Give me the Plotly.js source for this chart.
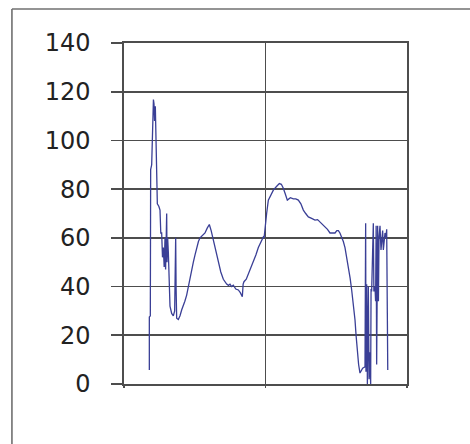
<!DOCTYPE html>
<html>
<head>
<meta charset="utf-8">
<script src="https://cdn.plot.ly/plotly-3.0.1.min.js"></script>
<style>
html,body{margin:0;padding:0;background:#fff;}
#chart{width:470px;height:444px;}
</style>
</head>
<body>
<div id="chart"></div>
<script>
var xPos = [
  8.95, 8.95, 9.3, 9.42, 9.78, 10.13, 10.4, 10.6, 10.8, 11.07, 11.3, 11.54, 11.78, 12.3, 12.72,
  13.0, 13.31, 13.6, 13.9, 14.2, 14.49, 14.7, 15.08, 15.2, 15.43, 15.67, 15.9, 16.25, 16.84, 17.43,
  17.9, 18.0, 18.26, 18.4, 18.61, 19.2, 19.79, 20.4, 20.97, 21.5, 22.14, 22.7, 23.32, 23.9, 24.5,
  25.1, 25.68, 26.3, 26.86, 27.7, 28.62, 29.4, 30.15, 30.8, 31.57, 32.4, 33.33, 34.2, 35.1, 35.7,
  36.28, 36.9, 37.46, 38.0, 38.63, 39.5, 40.4, 41.1, 41.81, 42.1, 42.4, 43.2, 43.93, 44.8, 45.7,
  46.6, 47.47, 48.3, 49.23, 49.5, 49.82, 50.4, 51.0, 51.9, 52.77, 53.8, 54.89, 55.6, 56.3, 57.0,
  57.71, 58.8, 59.84, 60.7, 61.6, 62.5, 63.37, 64.2, 65.14, 66.3, 67.49, 68.4, 69.26, 70.1, 71.02,
  71.9, 72.79, 73.7, 74.56, 75.2, 75.74, 76.3, 76.91, 77.5, 78.09, 78.7, 79.27, 79.9, 80.45, 81.0,
  81.63, 82.0, 82.45, 82.9, 83.39, 84.33, 85.16, 85.39, 85.5, 85.75, 86.0, 86.34, 86.6, 86.9, 87.16,
  87.3, 87.51, 88.1, 88.3, 88.69, 88.9, 89.1, 89.28, 89.63, 89.9, 90.11, 90.46, 90.81, 91.1, 91.4,
  91.64, 92.0, 92.23, 92.6, 92.82, 93.05, 93.2
];
var values = [
  5.7, 27.5, 28, 88, 90, 110, 116.8, 115, 108, 114, 100, 89, 74, 73, 71.4,
  62, 62, 52, 56, 48, 60, 47, 70, 50, 60, 54, 40, 32, 29, 28,
  30, 48, 60, 40, 27, 26.5, 28, 30.5, 32, 34, 36.5, 40, 44, 47, 50,
  53, 56, 58.5, 60, 61, 62, 64, 65.5, 63, 59, 54, 49.5, 46, 43, 42,
  41, 40.5, 41, 40, 40.6, 39, 38.6, 37.5, 35.8, 41, 42, 43, 45, 47.5, 50,
  53, 56, 58, 60.4, 60, 64, 70, 75.5, 77.5, 79.6, 81, 82.3, 82, 80.4, 78,
  75.5, 76.5, 76, 76, 75.5, 74, 71.4, 70, 68.6, 68, 67.3, 67.5, 66.5, 65.5, 64.5,
  63.5, 62, 62, 62, 63, 63, 62, 60.4, 58.5, 56, 52, 48, 43.5, 38.6, 33,
  26.3, 20, 12.7, 8, 4.5, 6.5, 7, 66, 5, 41, 0, 40, 2, 13, 0,
  39, 38, 66, 38, 40, 34, 65, 8, 65, 34, 60, 65, 55, 60, 63,
  55, 58, 62, 60, 63.5, 29, 5.7
];
var yTicks = [0, 20, 40, 60, 80, 100, 120, 140];

var frameColor = '#707070';
var gridColor = '#4d4d4d';

var trace = {
  x: xPos,
  y: values,
  type: 'scatter',
  mode: 'lines',
  line: {color: '#3a3f96', width: 1.3},
  hoverinfo: 'skip'
};

var layout = {
  width: 470,
  height: 444,
  margin: {l: 124, r: 63, t: 43, b: 60, pad: 0},
  paper_bgcolor: '#ffffff',
  plot_bgcolor: '#ffffff',
  showlegend: false,
  xaxis: {
    range: [0, 100],
    dtick: 50,
    tick0: 0,
    showgrid: true,
    gridcolor: gridColor,
    gridwidth: 1.6,
    showticklabels: false,
    ticks: 'outside',
    ticklen: 2,
    tickwidth: 1.6,
    tickcolor: gridColor,
    zeroline: false,
    showline: true,
    mirror: true,
    linecolor: gridColor,
    linewidth: 1.6,
    fixedrange: true
  },
  yaxis: {
    range: [0, 140],
    tickvals: yTicks,
    ticktext: yTicks.map(String),
    showgrid: true,
    gridcolor: gridColor,
    gridwidth: 1.6,
    ticks: 'outside',
    ticklen: 11,
    tickwidth: 1.6,
    tickcolor: gridColor,
    ticklabelstandoff: 16,
    showline: true,
    mirror: true,
    linecolor: gridColor,
    linewidth: 1.6,
    zeroline: false,
    tickfont: {family: 'DejaVu Sans, Liberation Sans, Arial, sans-serif', size: 24, color: '#222222'},
    fixedrange: true
  },
  shapes: [
    {type: 'line', xref: 'paper', yref: 'paper', x0: -0.396, x1: 1.3, y0: 1.0997, y1: 1.0997,
     line: {color: frameColor, width: 1.6}},
    {type: 'line', xref: 'paper', yref: 'paper', x0: -0.396, x1: -0.396, y0: 1.0997, y1: -0.2,
     line: {color: frameColor, width: 1.6}}
  ]
};

Plotly.newPlot('chart', [trace], layout, {displayModeBar: false, staticPlot: true});
</script>
</body>
</html>
